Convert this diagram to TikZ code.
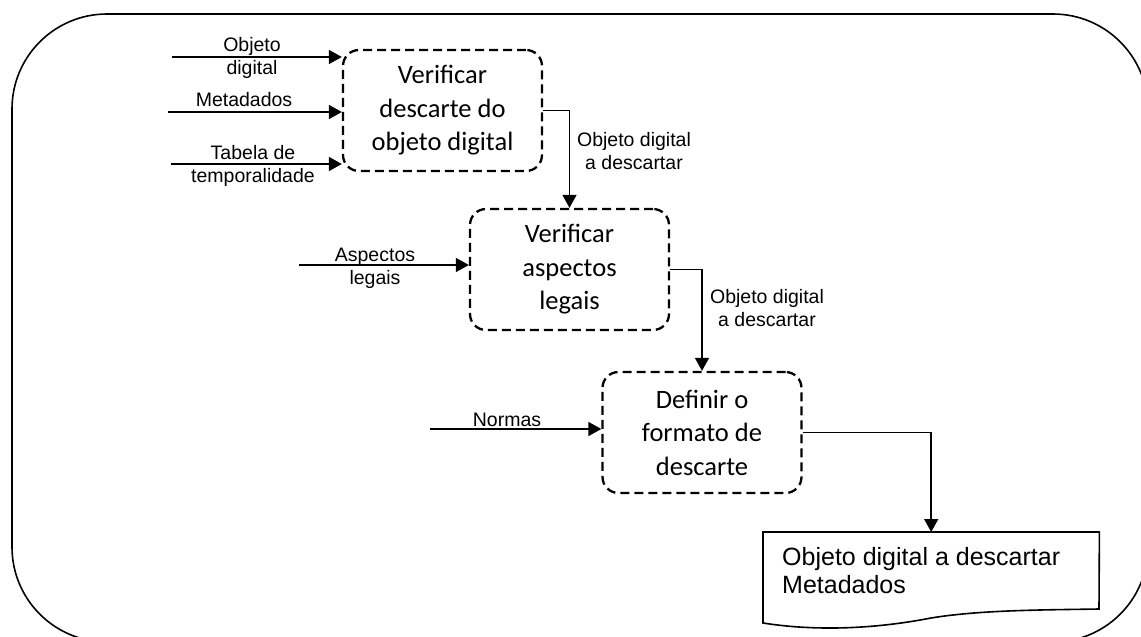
\documentclass[tikz,border=0pt]{standalone}
\usepackage{fontspec}
\setmainfont{Liberation Sans}
\newfontfamily\boxfont{Carlito}
\usetikzlibrary{arrows.meta}
\begin{document}
\begin{tikzpicture}[x=1pt,y=-1pt,
  procbox/.style={draw, line width=2.3pt, dash pattern=on 9pt off 5pt, rounded corners=16pt,
    minimum width=199pt, minimum height=121pt, align=center, inner sep=0pt,
    font=\boxfont\fontsize{26.5pt}{33.5pt}\selectfont},
  conn/.style={line width=1.6pt},
  arr/.style={conn, -{Triangle[length=13pt,width=14pt]}},
  lbl/.style={align=center, inner sep=0pt, font=\fontsize{19.5pt}{23pt}\selectfont}]
\useasboundingbox (0,0) rectangle (1141,637);
\begin{scope}
  \clip (0,0) rectangle (1141,637);
  \draw[line width=1.6pt, rounded corners=95pt] (12,14) rectangle (1148,642);
\end{scope}

% process boxes
\node[procbox] (b1) at (442.5,110.5) {Verificar\\descarte do\\objeto digital};
\node[procbox] (b2) at (569.5,269.5) {Verificar\\aspectos\\legais};
\node[procbox] (b3) at (702,432.5) {Definir o\\formato de\\descarte};

% document
\node[minimum width=336pt, minimum height=91pt, inner sep=0pt, anchor=north west] (doc) at (763,532) {};
\draw[conn] (doc.north west) -- (doc.north east) -- (1099,609)
  .. controls (1040,610) and (980,610) .. (931,618)
  .. controls (880,628) and (820,632) .. (763,623) -- cycle;
\node[anchor=west, align=left, inner sep=0pt, font=\fontsize{25pt}{28pt}\selectfont] (dt) at (782,571)
  {Objeto digital a descartar\\Metadados};

% inputs
\coordinate (i1) at (172,57);
\coordinate (i2) at (168,112);
\coordinate (i3) at (171,164);
\coordinate (i4) at (299,265);
\coordinate (i5) at (430,429);
\draw[arr] (i1) -- (i1 -| b1.west);
\draw[arr] (i2) -- (i2 -| b1.west);
\draw[arr] (i3) -- (i3 -| b1.west);
\draw[arr] (i4) -- (i4 -| b2.west);
\draw[arr] (i5) -- (i5 -| b3.west);

% flow connectors
\draw[arr] (b1.east) -| (b2.north);
\draw[arr] (b2.east) -| (b3.north);
\draw[arr] (b3.east) -| (doc.north);

% labels
\node[lbl] (l1) at (252,58) {Objeto\\digital};
\node[lbl] (l2) at (244,100) {Metadados};
\node[lbl] (l3) at (253,166) {Tabela de\\temporalidade};
\node[lbl] (l4) at (375,268) {Aspectos\\legais};
\node[lbl] (l5) at (507,420) {Normas};
\node[lbl] (l6) at (634,151) {Objeto digital\\a descartar};
\node[lbl] (l7) at (767,308) {Objeto digital\\a descartar};
\end{tikzpicture}
\end{document}
